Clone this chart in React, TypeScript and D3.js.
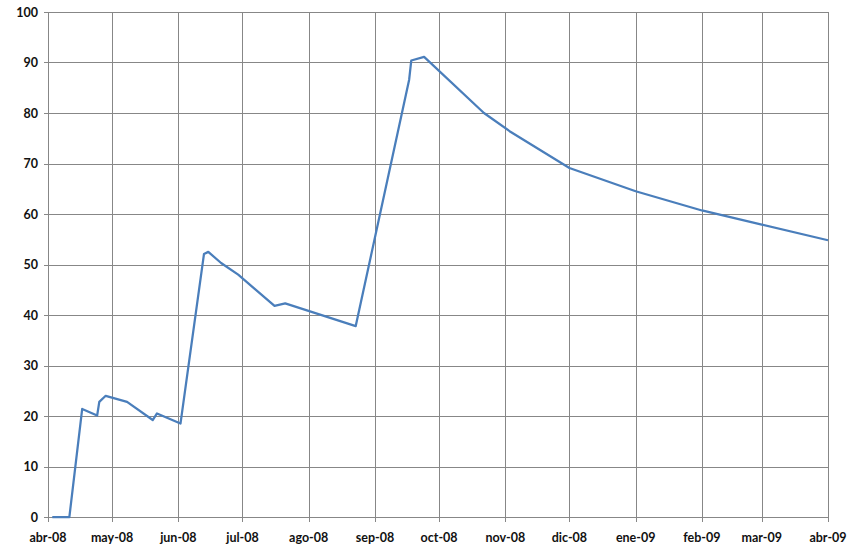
import React from "react";
import * as d3 from "d3";

const dates: string[] = [
  "2008-04-03", "2008-04-11", "2008-04-17", "2008-04-24", "2008-04-25", "2008-04-28",
  "2008-05-08", "2008-05-20", "2008-05-22", "2008-06-02", "2008-06-13", "2008-06-15",
  "2008-06-21", "2008-06-29", "2008-07-16", "2008-07-21", "2008-08-23", "2008-09-17",
  "2008-09-18", "2008-09-24", "2008-10-22", "2008-11-03", "2008-12-01", "2009-01-01",
  "2009-02-01", "2009-03-01", "2009-04-01",
];
const values: number[] = [
  0, 0, 21.4, 20.1, 22.8, 24.0,
  22.8, 19.2, 20.5, 18.5, 52.1, 52.5,
  50.3, 48.0, 41.8, 42.3, 37.8, 86.6,
  90.4, 91.1, 80.0, 76.4, 69.1, 64.5,
  60.7, 57.9, 54.8,
];
const monthNames: string[] = ["ene", "feb", "mar", "abr", "may", "jun", "jul", "ago", "sep", "oct", "nov", "dic"];
const yTicks: number[] = [0, 10, 20, 30, 40, 50, 60, 70, 80, 90, 100];

const W = 851, H = 554;
const L = 48, R = 828, T = 12, B = 517;

export default function App() {
  const parse = d3.utcParse("%Y-%m-%d");
  const x = d3.scaleUtc().domain([parse("2008-04-01")!, parse("2009-04-01")!]).range([L, R]);
  const y = d3.scaleLinear().domain([0, 100]).range([B, T]);
  const months = d3.utcMonth.range(parse("2008-04-01")!, d3.utcDay.offset(parse("2009-04-01")!, 1));
  const pts = dates.map((d, i) => [parse(d)!, values[i]] as [Date, number]);
  const line = d3.line<[Date, number]>().x(d => x(d[0])).y(d => y(d[1]));
  const fmt = (d: Date) => `${monthNames[d.getUTCMonth()]}-${String(d.getUTCFullYear()).slice(2)}`;
  const font = "Lato, 'Open Sans', sans-serif";
  return (
    <svg width={W} height={H} style={{ position: "absolute", left: 0, top: 0, background: "#fff" }}>
      <rect x={0} y={0} width={W} height={H} fill="#fff" />
      {yTicks.map(t => (
        <line key={"gy" + t} x1={L - 4} x2={R} y1={Math.round(y(t)) + 0.5} y2={Math.round(y(t)) + 0.5} stroke="#878787" strokeWidth={1} />
      ))}
      {months.map((m, i) => (
        <line key={"gx" + i} x1={Math.round(x(m)) + 0.5} x2={Math.round(x(m)) + 0.5} y1={T} y2={B + 5} stroke="#878787" strokeWidth={1} />
      ))}
      <path d={line(pts) || ""} fill="none" stroke="#4a7ebb" strokeWidth={2.25} strokeLinejoin="round" />
      {yTicks.map(t => (
        <text key={"ty" + t} x={38} y={y(t)} dy="0.36em" textAnchor="end" fontFamily={font} fontWeight={700} fontSize={12.5} fill="#111">{t}</text>
      ))}
      {months.map((m, i) => (
        <text key={"tx" + i} x={x(m)} y={542} textAnchor="middle" fontFamily={font} fontWeight={700} fontSize={12.5} fill="#111">{fmt(m)}</text>
      ))}
    </svg>
  );
}
